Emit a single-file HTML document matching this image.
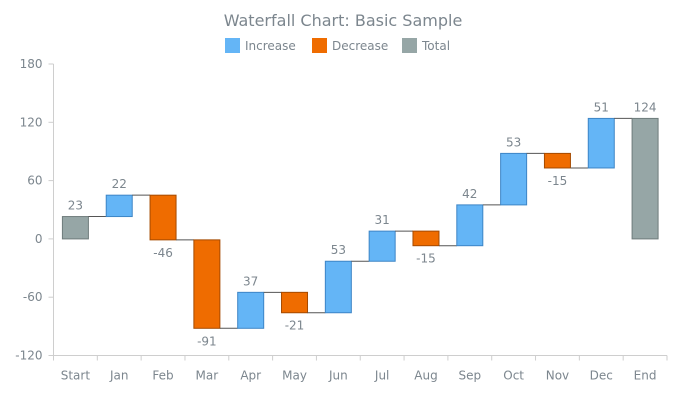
<!DOCTYPE html>
<html><head><meta charset="utf-8"><style>
body{margin:0;background:#fff;}
svg{display:block;font-family:"DejaVu Sans","Liberation Sans",sans-serif;}
</style></head><body>
<svg id="chart" width="687" height="400">
<text x="343" y="26" text-anchor="middle" font-size="16" fill="#7c868e">Waterfall Chart: Basic Sample</text>
<g font-size="12" fill="#7c868e">
<g><rect x="225" y="38" width="15" height="15" fill="#64b5f6"/><text x="245" y="50">Increase</text></g>
<g><rect x="312" y="38" width="15" height="15" fill="#ef6c00"/><text x="332" y="50">Decrease</text></g>
<g><rect x="402" y="38" width="15" height="15" fill="#96a6a6"/><text x="422" y="50">Total</text></g>
</g>
<g id="axes"></g>
<g id="marks"></g>
</svg>
<script>
const categories=["Start","Jan","Feb","Mar","Apr","May","Jun","Jul","Aug","Sep","Oct","Nov","Dec","End"];
const values=[23,22,-46,-91,37,-21,53,31,-15,42,53,-15,51,124];
const isTotal=[true,false,false,false,false,false,false,false,false,false,false,false,false,true];
const yTicks=[-120,-60,0,60,120,180];
const NS="http://www.w3.org/2000/svg";
const X0=53.5,X1=667,Y0=355.5,Y1=64,ymin=-120,ymax=180;
const bw=(X1-X0)/categories.length;
function y(v){return Y0-(v-ymin)/(ymax-ymin)*(Y0-Y1);}
function xc(i){return X0+bw*(i+0.5);}
function mk(tag,attrs,parent,txt){const e=document.createElementNS(NS,tag);for(const k in attrs)e.setAttribute(k,attrs[k]);if(txt!==undefined)e.textContent=txt;parent.appendChild(e);return e;}
const ax=document.getElementById('axes'),mg=document.getElementById('marks');
let l=mk('line',{x1:X0,y1:Y1,x2:X0,y2:Y0,stroke:'#cecece'},ax);


l=mk('line',{x1:X0,y1:Y0,x2:X1,y2:Y0,stroke:'#cecece'},ax);


yTicks.forEach(t=>{
  mk('line',{x1:X0-5,y1:y(t),x2:X0,y2:y(t),stroke:'#cecece'},ax);
  const tx=mk('text',{x:X0-11,y:y(t)+4,'text-anchor':'end','font-size':12,fill:'#7c868e'},ax,t);
  
  
});
for(let i=0;i<=categories.length;i++){mk('line',{x1:X0+bw*i,y1:Y0,x2:X0+bw*i,y2:Y0+5,stroke:'#cecece'},ax);}
categories.forEach((c,i)=>{
  const tx=mk('text',{x:xc(i),y:Y0+24,'text-anchor':'middle','font-size':12,fill:'#7c868e'},ax,c);
  
  
});
let cum=0;const w=26;
values.forEach((v,i)=>{
  let a,b,col,st;
  if(isTotal[i]){a=0;b=(i===0)?v:v;cum=v;col='#96a6a6';st='#6f7c7c';}
  else{a=cum;b=cum+v;cum=b;if(v>=0){col='#64b5f6';st='#3d85c6';}else{col='#ef6c00';st='#a54a00';}}
  const top=Math.max(a,b),bot=Math.min(a,b);
  const r=mk('rect',{x:xc(i)-w/2,y:y(top),width:w,height:y(bot)-y(top),fill:col,stroke:st,'stroke-width':1},mg);
  
  
  if(i<values.length-1){
    const cl=mk('line',{x1:xc(i)+w/2,y1:y(cum),x2:xc(i+1)-w/2,y2:y(cum),stroke:'#555','stroke-width':1},mg);
    
    
  }
  const lab=v>=0?mk('text',{x:xc(i),y:y(top)-7,'text-anchor':'middle','font-size':12,fill:'#7c868e'},mg,v)
                :mk('text',{x:xc(i),y:y(bot)+17,'text-anchor':'middle','font-size':12,fill:'#7c868e'},mg,v);
  
  
});
</script>
</body></html>
